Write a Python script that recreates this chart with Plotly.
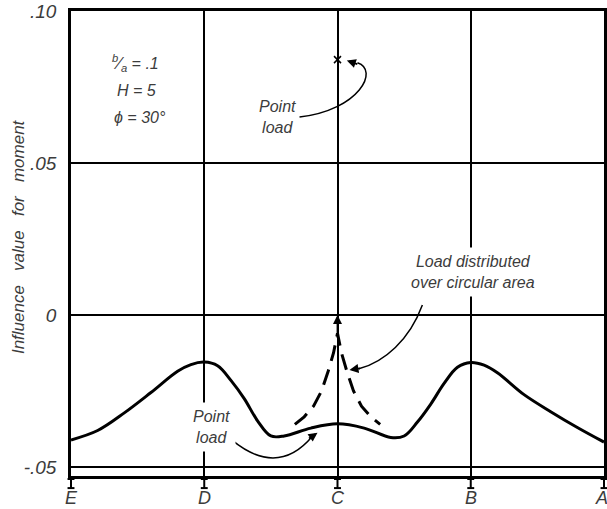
import plotly.graph_objects as go

# ---- data ----
pos_labels = ["E", "D", "C", "B", "A"]
pos_values = [0, 1, 2, 3, 4]

point_x = [0, 0.2, 0.4, 0.6, 0.8, 0.9, 1.0, 1.1, 1.2, 1.3, 1.4, 1.5, 1.6, 1.8, 2.0,
           2.2, 2.4, 2.5, 2.6, 2.7, 2.8, 2.9, 3.0, 3.1, 3.2, 3.4, 3.6, 3.8, 4.0]
point_y = [-0.0411, -0.0380, -0.0322, -0.0255, -0.0185, -0.0163, -0.0155, -0.0167, -0.0215,
           -0.0275, -0.0348, -0.0398, -0.0398, -0.0372, -0.0358, -0.0372, -0.0403, -0.0398,
           -0.0352, -0.0293, -0.0225, -0.0172, -0.0156, -0.0165, -0.0190, -0.0262, -0.0318,
           -0.0370, -0.0418]

dist_x = [1.68, 1.75, 1.82, 1.88, 1.93, 1.97, 2.0, 2.03, 2.07, 2.12, 2.18, 2.25, 2.32]
dist_y = [-0.0360, -0.0335, -0.0300, -0.0250, -0.0185, -0.0125, -0.0060, -0.0125, -0.0185,
          -0.0250, -0.0300, -0.0335, -0.0360]

conc_x = [2.0]
conc_y = [0.084]

y_ticks = [-0.05, 0, 0.05, 0.10]
y_ticktext = ["-.05", "0", ".05", ".10"]

X_RANGE = [0, 4]
TXT = "#3c3c3c"
FONT = "Liberation Sans"

fig = go.Figure()
fig.add_trace(go.Scatter(x=point_x, y=point_y, mode="lines",
                         line=dict(color="black", width=3, shape="spline"),
                         showlegend=False, hoverinfo="skip"))
fig.add_trace(go.Scatter(x=dist_x, y=dist_y, mode="lines",
                         line=dict(color="black", width=3, dash="16px,9px"),
                         showlegend=False, hoverinfo="skip"))
fig.add_trace(go.Scatter(x=conc_x, y=conc_y, mode="markers",
                         marker=dict(symbol="x-thin", size=7, line=dict(color="black", width=1.5)),
                         showlegend=False, hoverinfo="skip"))

fig.update_xaxes(range=X_RANGE, tickvals=pos_values, showticklabels=False,
                 showgrid=True, gridcolor="black", gridwidth=1.5, automargin=False,
                 showline=True, linecolor="black", linewidth=2.5, mirror=True,
                 zeroline=False, ticks="")
fig.update_yaxes(range=[-0.05296, 0.10], tickvals=y_ticks,
                 ticktext=["<i>%s</i>" % t for t in y_ticktext],
                 showgrid=True, gridcolor="black", gridwidth=1.5, automargin=False,
                 zeroline=True, zerolinecolor="black", zerolinewidth=2.2,
                 showline=True, linecolor="black", linewidth=2.5, mirror=True,
                 ticks="", ticklabelstandoff=8,
                 tickfont=dict(family=FONT, size=19, color=TXT))

annos = []
# x position letters
for v, s in zip(pos_values, pos_labels):
    d = dict(x=v, y=-0.047, xref="x", yref="paper", showarrow=False,
             text="<i>%s</i>" % s, yanchor="middle",
             font=dict(family=FONT, size=18, color=TXT))
    if v == X_RANGE[1]:
        d.update(xanchor="right", xshift=6)
    annos.append(d)

# I-beam position marks below the axis (paper coords, from axis values)
ib_top, ib_bot, ib_half = -0.0065, -0.026, 0.0065
for v in pos_values:
    px = (v - X_RANGE[0]) / (X_RANGE[1] - X_RANGE[0])
    fig.add_shape(type="line", xref="paper", yref="paper", x0=px, x1=px, y0=ib_top, y1=ib_bot,
                  line=dict(color="black", width=2))
    for yy in (ib_top, ib_bot):
        fig.add_shape(type="line", xref="paper", yref="paper", x0=px - ib_half, x1=px + ib_half,
                      y0=yy, y1=yy, line=dict(color="black", width=2))

def txt(x, y, s, size=16, xanchor="center", bg=None, align="center"):
    d = dict(x=x, y=y, xref="x", yref="y", text=s, showarrow=False, xanchor=xanchor,
             align=align, font=dict(family=FONT, size=size, color=TXT))
    if bg:
        d.update(bgcolor=bg, borderpad=5)
    annos.append(d)

txt(0.29, 0.0829, "<i><sup>b</sup>⁄<sub>a</sub> = .1</i>", xanchor="left")
txt(0.33, 0.0740, "<i>H = 5</i>", xanchor="left")
txt(0.31, 0.0651, "<i>ϕ = 30°</i>", xanchor="left")
txt(1.55, 0.0651, "<i>Point<br>load</i>")
txt(3.02, 0.0141, "<i>Load distributed<br>over circular area</i>", bg="white")
txt(1.056, -0.0368, "<i>Point<br>load</i>", bg="white")

# y-axis title
annos.append(dict(x=-0.12, y=0.515, xref="paper", yref="paper", showarrow=False,
                  text="<i>Influence\u00a0\u00a0\u00a0value\u00a0\u00a0\u00a0for\u00a0\u00a0\u00a0moment</i>",
                  textangle=-90, font=dict(family=FONT, size=17, color=TXT)))

# arrowheads
def head(x, y, ax, ay, size=1.0):
    annos.append(dict(x=x, y=y, xref="x", yref="y", ax=ax, ay=ay, text="", showarrow=True,
                      arrowhead=2, arrowsize=size, arrowwidth=1.8, arrowcolor="black"))

head(2.0, 0.0, 0, 24, 1.0)
head(2.07, 0.0837, 12, 4, 1.0)
head(2.09, -0.0181, 12, -2, 1.0)
head(1.85, -0.0387, -10, 7, 1.0)

fig.update_layout(annotations=annos)

# curved leaders (data coordinates)
leaders = [
    "M 1.715,0.0651 C 2.165,0.0674 2.315,0.0806 2.15,0.0830",
    "M 2.637,0.0033 C 2.54,-0.0082 2.352,-0.0155 2.16,-0.0177",
    "M 1.206,-0.0411 Q 1.55,-0.0535 1.81,-0.0400",
]
for p in leaders:
    fig.add_shape(type="path", path=p, xref="x", yref="y",
                  line=dict(color="black", width=1.5))

fig.update_layout(width=607, height=509, margin=dict(l=71, r=3, t=11, b=33),
                  plot_bgcolor="white", paper_bgcolor="white")

fig.write_html("out.html")
